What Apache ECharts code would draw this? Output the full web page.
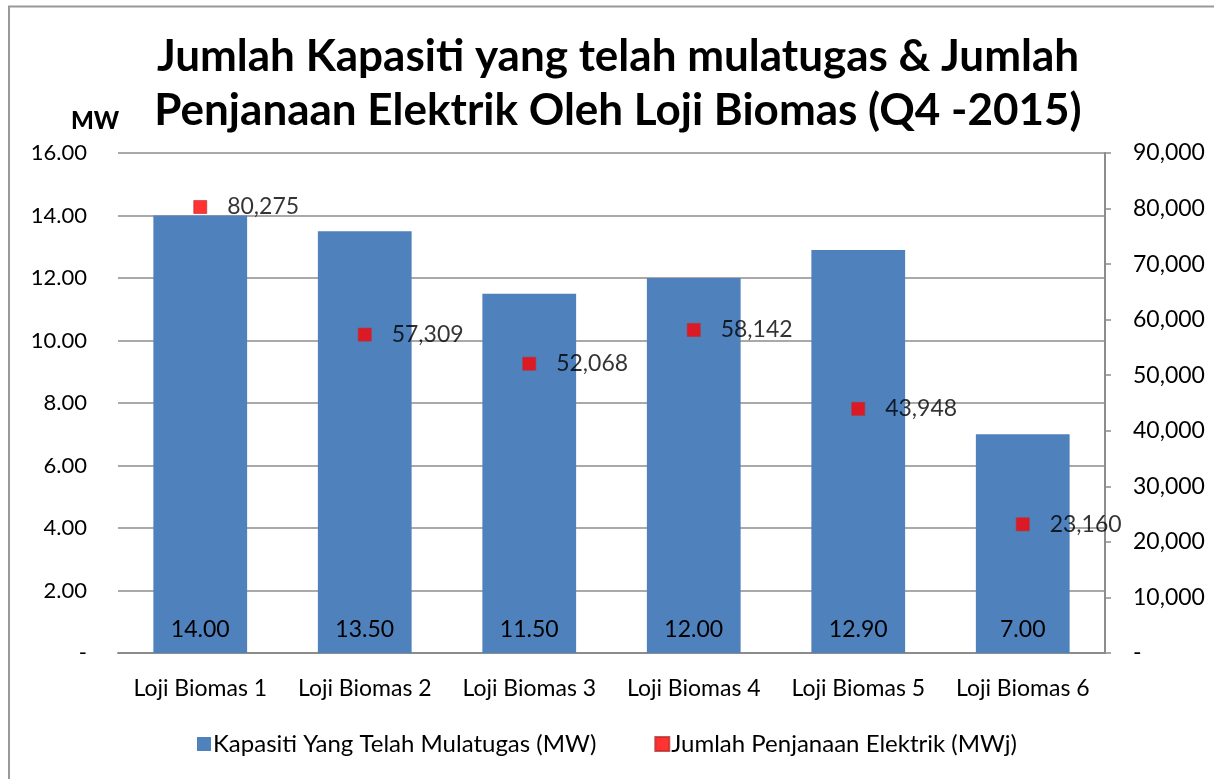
<!DOCTYPE html>
<html>
<head>
<meta charset="utf-8">
<script src="https://cdn.jsdelivr.net/npm/echarts@6/dist/echarts.min.js"></script>
<style>
  html, body { margin: 0; padding: 0; background: #ffffff; }
  #chart { width: 1214px; height: 779px; }
</style>
</head>
<body>
<div id="chart"></div>
<script>
const categories = ["Loji Biomas 1", "Loji Biomas 2", "Loji Biomas 3", "Loji Biomas 4", "Loji Biomas 5", "Loji Biomas 6"];
const capacityMW = [14.0, 13.5, 11.5, 12.0, 12.9, 7.0];
const generationMWj = [80275, 57309, 52068, 58142, 43948, 23160];
const capacityName = "Kapasiti Yang Telah Mulatugas (MW)";
const generationName = "Jumlah Penjanaan Elektrik (MWj)";

const font = "Lato, 'Noto Sans', sans-serif";
const formatThousands = (v) => (v === 0 ? "-" : v.toLocaleString("en-US"));
const formatFixed = (v) => (v === 0 ? "-" : v.toFixed(2));

const chart = echarts.init(document.getElementById("chart"));

chart.setOption({
  animation: false,
  backgroundColor: "#ffffff",
  textStyle: { fontFamily: font },
  title: [
    {
      text: "Jumlah Kapasiti yang telah mulatugas & Jumlah\nPenjanaan Elektrik Oleh Loji Biomas (Q4 -2015)",
      left: 613,
      textAlign: "center",
      top: 25,
      textStyle: {
        fontFamily: font,
        fontSize: 44,
        fontWeight: "bold",
        color: "#000000",
        lineHeight: 54,
      },
    },
    {
      text: "MW",
      left: 66,
      top: 104,
      textStyle: { fontFamily: font, fontSize: 24, fontWeight: 900, color: "#000000" },
    },
  ],
  graphic: [
    {
      type: "rect",
      shape: { x: 9, y: 6.5, width: 1220, height: 800 },
      style: { fill: "none", stroke: "#999999", lineWidth: 2 },
      silent: true,
    },
  ],
  legend: {
    bottom: 18,
    left: "center",
    itemGap: 58,
    itemWidth: 14,
    itemHeight: 14,
    textStyle: { fontFamily: font, fontSize: 24, color: "#000000", padding: [0, 0, 0, -3] },
    data: [
      { name: capacityName, icon: "rect" },
      { name: generationName, icon: "rect" },
    ],
  },
  grid: { left: 118, right: 109, top: 153, bottom: 126 },
  xAxis: {
    type: "category",
    data: categories,
    axisLine: { lineStyle: { color: "#8c8c8c", width: 2 } },
    axisTick: { show: false },
    axisLabel: { color: "#000000", fontSize: 23, fontFamily: font, margin: 24, interval: 0 },
  },
  yAxis: [
    {
      type: "value",
      min: 0,
      max: 16,
      interval: 2,
      axisLine: { show: false },
      axisTick: { show: false },
      axisLabel: { color: "#000000", fontSize: 22, fontFamily: font, margin: 31, formatter: formatFixed },
      splitLine: { lineStyle: { color: "#8c8c8c", width: 1.5 } },
    },
    {
      type: "value",
      min: 0,
      max: 90000,
      interval: 10000,
      position: "right",
      axisLine: { show: true, lineStyle: { color: "#8c8c8c", width: 2 } },
      axisTick: { show: true, length: 6, lineStyle: { color: "#8c8c8c", width: 1.5 } },
      axisLabel: {
        color: "#000000",
        fontSize: 23,
        fontFamily: font,
        margin: 28,
        align: "left",
        formatter: formatThousands,
      },
      splitLine: { show: false },
    },
  ],
  series: [
    {
      name: capacityName,
      type: "bar",
      yAxisIndex: 0,
      data: capacityMW,
      barWidth: "57%",
      itemStyle: { color: "#4F81BD" },
      label: {
        show: true,
        position: "insideBottom",
        distance: 12,
        color: "#000000",
        fontSize: 23,
        fontFamily: font,
        formatter: (p) => p.value.toFixed(2),
      },
    },
    {
      name: generationName,
      type: "scatter",
      yAxisIndex: 1,
      data: generationMWj,
      symbol: "rect",
      symbolSize: 13,
      itemStyle: { color: "#FF0000", borderColor: "#B8312F", borderWidth: 0.8 },
      label: {
        show: true,
        position: "right",
        distance: 20,
        color: "#000000",
        fontSize: 23,
        fontFamily: font,
        formatter: (p) => p.value.toLocaleString("en-US"),
      },
      z: 5,
    },
  ],
});
</script>
</body>
</html>
